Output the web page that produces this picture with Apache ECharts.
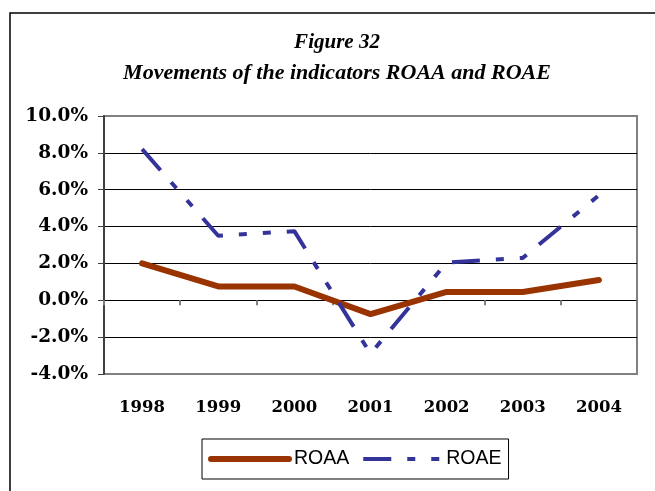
<!DOCTYPE html>
<html>
<head>
<meta charset="utf-8">
<script src="https://cdn.jsdelivr.net/npm/echarts@6/dist/echarts.min.js"></script>
<style>
  html, body { margin: 0; padding: 0; background: #fff; }
  #chart { width: 655px; height: 491px; }
</style>
</head>
<body>
<div id="chart"></div>
<script>
// data (percent)
const years = ['1998', '1999', '2000', '2001', '2002', '2003', '2004'];
const roaa = [2.0, 0.75, 0.75, -0.75, 0.45, 0.45, 1.1];
const roae = [8.2, 3.5, 3.75, -2.9, 2.05, 2.3, 5.7];

const serif = '"DejaVu Serif", serif';
const splitColors = ['#808080', '#000', '#000', '#000', '#000', '#000', '#000', '#808080'];
const roaeDash = [28, 16, 8, 16, 8, 16];

const myChart = echarts.init(document.getElementById('chart'));

const option = {
  animation: false,
  backgroundColor: '#fff',
  graphic: [
    {
      type: 'rect',
      z: -10,
      shape: { x: 10, y: 13, width: 700, height: 600 },
      style: { fill: 'none', stroke: '#000', lineWidth: 1.5 }
    },
    {
      type: 'text',
      x: 337, y: 43,
      style: {
        text: 'Figure 32', align: 'center', verticalAlign: 'middle',
        fontFamily: '"Liberation Serif", serif', fontWeight: 'bold', fontStyle: 'italic',
        fontSize: 21, fill: '#000'
      }
    },
    {
      type: 'text',
      x: 337, y: 73,
      style: {
        text: 'Movements of the indicators ROAA and ROAE', align: 'center', verticalAlign: 'middle',
        fontFamily: '"Liberation Serif", serif', fontWeight: 'bold', fontStyle: 'italic',
        fontSize: 22, fill: '#000'
      }
    }
  ],
  legend: {
    left: 202,
    top: 439,
    padding: [10, 7, 10, 6],
    itemWidth: 78,
    itemHeight: 20,
    itemGap: 12,
    borderColor: '#000',
    borderWidth: 1,
    textStyle: { fontFamily: '"Liberation Sans", Arial, sans-serif', fontSize: 19.5, color: '#000' },
    data: [
      { name: 'ROAA', itemStyle: { opacity: 0 }, lineStyle: { width: 6, cap: 'round', color: '#993300' } },
      { name: 'ROAE', itemStyle: { opacity: 0 }, lineStyle: { width: 4, type: roaeDash, color: '#333399' } }
    ]
  },
  grid: {
    left: 104, top: 116, right: 18, bottom: 117,
    show: true,
    backgroundColor: '#fff',
    borderColor: '#808080',
    borderWidth: 2
  },
  xAxis: [
    {
      type: 'category',
      data: years,
      boundaryGap: true,
      axisLine: { onZero: true, lineStyle: { color: '#000', width: 1 } },
      axisTick: { show: true, inside: false, length: 5, lineStyle: { color: '#808080', width: 2 } },
      axisLabel: { show: false }
    },
    {
      type: 'category',
      data: years,
      position: 'bottom',
      axisLine: { show: false, onZero: false },
      axisTick: { show: false },
      axisLabel: {
        margin: 25,
        fontFamily: serif, fontWeight: 'bold', fontSize: 16.5, color: '#000'
      }
    }
  ],
  yAxis: {
    type: 'value',
    min: -4,
    max: 10,
    interval: 2,
    axisLine: { show: true, lineStyle: { color: '#404040', width: 2 } },
    axisTick: { show: true, length: 6, lineStyle: { color: '#404040', width: 1 } },
    axisLabel: {
      margin: 16,
      formatter: v => v.toFixed(1) + '%',
      fontFamily: serif, fontWeight: 'bold', fontSize: 18.5, color: '#000'
    },
    splitLine: { show: true, lineStyle: { color: splitColors, width: 1 } }
  },
  series: [
    {
      name: 'ROAA',
      type: 'line',
      data: roaa,
      symbol: 'none',
      color: '#993300',
      lineStyle: { color: '#993300', width: 6, cap: 'round', join: 'round' }
    },
    {
      name: 'ROAE',
      type: 'line',
      data: roae,
      symbol: 'none',
      color: '#333399',
      lineStyle: { color: '#333399', width: 4, type: roaeDash }
    }
  ]
};

option && myChart.setOption(option);
</script>
</body>
</html>
